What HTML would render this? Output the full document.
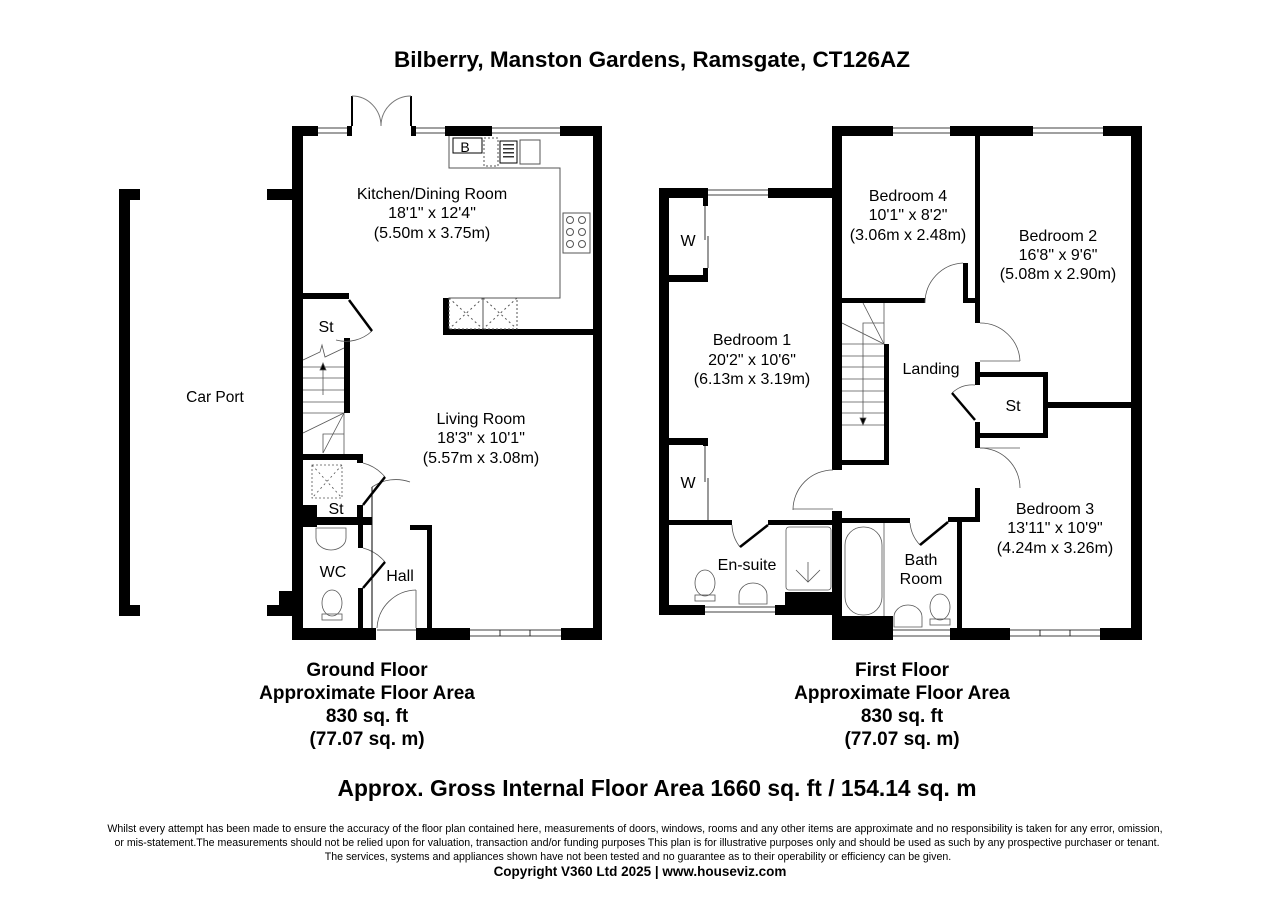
<!DOCTYPE html>
<html><head><meta charset="utf-8"><style>
html,body{margin:0;padding:0;background:#fff;}
svg{display:block;}
text{font-family:"Liberation Sans",Arial,sans-serif;fill:#000;}
.b{font-weight:bold;}
</style></head><body>
<svg width="1280" height="905" viewBox="0 0 1280 905" xmlns="http://www.w3.org/2000/svg">
<rect width="1280" height="905" fill="#fff"/>
<text x="652" y="67" font-size="22.5" class="b" text-anchor="middle">Bilberry, Manston Gardens, Ramsgate, CT126AZ</text>

<!-- ===== Car port ===== -->
<g fill="#000">
<rect x="119" y="189" width="11" height="427"/>
<rect x="119" y="189" width="21" height="11"/>
<rect x="119" y="605" width="21" height="11"/>
</g>
<text x="215" y="402" font-size="15.5" text-anchor="middle">Car Port</text>

<!-- ===== Ground floor walls ===== -->
<g fill="#000">
<rect x="292" y="126" width="11" height="514"/>
<rect x="267" y="189" width="30" height="11"/>
<rect x="267" y="605" width="30" height="11"/>
<rect x="279" y="591" width="16" height="20"/>
<rect x="292" y="126" width="26" height="10"/>
<rect x="347" y="126" width="5" height="10"/>
<rect x="411" y="126" width="5" height="10"/>
<rect x="445" y="126" width="47" height="10"/>
<rect x="560" y="126" width="42" height="10"/>
<rect x="593" y="126" width="9" height="514"/>
<rect x="292" y="628" width="84" height="12"/>
<rect x="416" y="628" width="54" height="12"/>
<rect x="561" y="628" width="41" height="12"/>
<rect x="443" y="298" width="6" height="37"/>
<rect x="443" y="329" width="155" height="6"/>
<rect x="303" y="293" width="46" height="6"/>
<rect x="344" y="338" width="6" height="75"/>
<rect x="292" y="454" width="68" height="6"/>
<rect x="357" y="454" width="6" height="9"/>
<rect x="357" y="505" width="6" height="18"/>
<rect x="292" y="505" width="25" height="22"/>
<rect x="292" y="517" width="80" height="8"/>
<rect x="358" y="525" width="5" height="23"/>
<rect x="358" y="588" width="5" height="45"/>
<rect x="410" y="525" width="22" height="5"/>
<rect x="427" y="525" width="5" height="105"/>
</g>
<g stroke="#000" stroke-width="0.8" fill="none">
<line x1="318" y1="128" x2="347" y2="128"/><line x1="318" y1="133" x2="347" y2="133"/>
<line x1="416" y1="128" x2="445" y2="128"/><line x1="416" y1="133" x2="445" y2="133"/>
<line x1="492" y1="128" x2="560" y2="128"/><line x1="492" y1="133" x2="560" y2="133"/>
<line x1="470" y1="630" x2="561" y2="630"/><line x1="470" y1="636" x2="561" y2="636"/>
<line x1="500" y1="630" x2="500" y2="636"/><line x1="530" y1="630" x2="530" y2="636"/>
<line x1="377" y1="630" x2="416" y2="630"/>
</g>
<g fill="none" stroke="#000">
<line x1="352" y1="96" x2="352" y2="126" stroke-width="2"/>
<line x1="411" y1="96" x2="411" y2="126" stroke-width="2"/>
<path d="M352 96 A29 30 0 0 1 381 126" stroke="#777" stroke-width="1"/>
<path d="M411 96 A30 30 0 0 0 381 126" stroke="#777" stroke-width="1"/>
</g>
<g fill="none" stroke="#555" stroke-width="1">
<polyline points="449,136 449,168 560,168 560,298 449,298"/>
<rect x="453" y="138" width="29" height="15" stroke="#000"/>
<rect x="484" y="138" width="14" height="28" stroke-dasharray="2,2"/>
<rect x="500" y="141" width="17" height="22" stroke="#000"/>
<rect x="520" y="140" width="20" height="24"/>
<rect x="563" y="213" width="27" height="40"/>
<circle cx="570" cy="220" r="3.5"/><circle cx="582" cy="220" r="3.5"/>
<circle cx="570" cy="232" r="3.5"/><circle cx="582" cy="232" r="3.5"/>
<circle cx="570" cy="244" r="3.5"/><circle cx="582" cy="244" r="3.5"/>
<rect x="449" y="298" width="34" height="31" stroke-dasharray="2,2"/>
<rect x="483" y="298" width="34" height="31" stroke-dasharray="2,2"/>
<path d="M449 298 L483 329 M483 298 L449 329 M483 298 L517 329 M517 298 L483 329" stroke-dasharray="2,3"/>
</g>
<g fill="#333"><rect x="503" y="144" width="11" height="1.5"/><rect x="503" y="148" width="11" height="1.5"/><rect x="503" y="152" width="11" height="1.5"/><rect x="503" y="156" width="11" height="1.5"/></g>
<text x="465" y="152" font-size="14" text-anchor="middle">B</text>
<g fill="none" stroke="#555" stroke-width="0.8">
<line x1="303" y1="367" x2="344" y2="367"/><line x1="303" y1="378" x2="344" y2="378"/>
<line x1="303" y1="390" x2="344" y2="390"/><line x1="303" y1="402" x2="344" y2="402"/>
<line x1="303" y1="413" x2="344" y2="413"/>
<line x1="303" y1="433" x2="344" y2="413"/><line x1="323" y1="453" x2="344" y2="413"/>
<polyline points="323,453 323,434 344,434"/><line x1="344" y1="413" x2="344" y2="454"/>
<polyline points="303,360 320,352 322,345 325,357 344,348"/>
<line x1="323" y1="395" x2="323" y2="368"/>
<path d="M320 370 L323 363 L326 370 Z" fill="#000"/>
<rect x="312" y="465" width="30" height="33" stroke-dasharray="2,2"/>
<path d="M312 465 L342 498 M342 465 L312 498" stroke-dasharray="2,3"/>
<path d="M372 331 A38 38 0 0 1 336 340"/>
<path d="M363 463 A42 42 0 0 1 385 477"/>
<path d="M372 487 A42 42 0 0 1 410 482"/>
<path d="M363 548 A42 42 0 0 1 385 562"/>
<path d="M377 628 A40 40 0 0 1 416 590"/>
<line x1="416" y1="590" x2="416" y2="628"/>
<path d="M316 528 L346 528 L346 538 A15 12 0 0 1 316 538 Z"/>
<ellipse cx="332" cy="603" rx="10" ry="13"/>
<rect x="322" y="614" width="20" height="6"/>
</g>
<g stroke="#000" stroke-width="2.5"><line x1="349" y1="300" x2="372" y2="331"/><line x1="363" y1="505" x2="385" y2="477"/><line x1="363" y1="588" x2="385" y2="562"/></g>
<g stroke="#000" stroke-width="1"><line x1="372" y1="487" x2="372" y2="628"/></g>
<g font-size="16" text-anchor="middle">
<text x="326" y="332">St</text>
<text x="336" y="514">St</text>
<text x="333" y="577">WC</text>
<text x="400" y="581">Hall</text>
<text x="432" y="199">Kitchen/Dining Room</text>
<text x="432" y="218">18'1" x 12'4"</text>
<text x="432" y="238">(5.50m x 3.75m)</text>
<text x="481" y="424">Living Room</text>
<text x="481" y="443">18'3" x 10'1"</text>
<text x="481" y="463">(5.57m x 3.08m)</text>
</g>

<!-- ===== First floor walls ===== -->
<g fill="#000">
<rect x="659" y="188" width="10" height="427"/>
<rect x="659" y="188" width="49" height="10"/>
<rect x="768" y="188" width="74" height="10"/>
<rect x="833" y="126" width="60" height="10"/>
<rect x="950" y="126" width="83" height="10"/>
<rect x="1103" y="126" width="39" height="10"/>
<rect x="1131" y="126" width="11" height="514"/>
<rect x="832" y="126" width="10" height="344"/>
<rect x="832" y="511" width="10" height="129"/>
<rect x="669" y="275" width="39" height="7"/>
<rect x="703" y="198" width="5" height="8"/><rect x="703" y="268" width="5" height="10"/>
<rect x="669" y="438" width="39" height="7"/>
<rect x="703" y="438" width="5" height="8"/>
<rect x="659" y="520" width="73" height="5"/>
<rect x="768" y="520" width="65" height="5"/>
<rect x="659" y="605" width="46" height="10"/>
<rect x="775" y="605" width="58" height="10"/>
<rect x="785" y="592" width="48" height="23"/>
<rect x="842" y="298" width="83" height="5"/>
<rect x="963" y="298" width="17" height="5"/>
<rect x="975" y="126" width="5" height="197"/>
<rect x="975" y="362" width="5" height="23"/>
<rect x="975" y="422" width="5" height="26"/>
<rect x="975" y="488" width="5" height="34"/>
<rect x="963" y="263" width="5" height="40"/>
<rect x="975" y="372" width="73" height="5"/>
<rect x="975" y="433" width="73" height="5"/>
<rect x="1043" y="372" width="5" height="66"/>
<rect x="1048" y="402" width="83" height="6"/>
<rect x="884" y="344" width="5" height="121"/>
<rect x="842" y="460" width="47" height="5"/>
<rect x="842" y="518" width="68" height="5"/>
<rect x="948" y="517" width="32" height="5"/>
<rect x="957" y="517" width="5" height="123"/>
<rect x="833" y="628" width="60" height="12"/>
<rect x="842" y="616" width="51" height="14"/>
<rect x="950" y="628" width="60" height="12"/>
<rect x="1100" y="628" width="42" height="12"/>
</g>
<g stroke="#000" stroke-width="0.8" fill="none">
<line x1="708" y1="190" x2="768" y2="190"/><line x1="708" y1="195" x2="768" y2="195"/>
<line x1="893" y1="128" x2="950" y2="128"/><line x1="893" y1="133" x2="950" y2="133"/>
<line x1="1033" y1="128" x2="1103" y2="128"/><line x1="1033" y1="133" x2="1103" y2="133"/>
<line x1="705" y1="607" x2="775" y2="607"/><line x1="705" y1="612" x2="775" y2="612"/>
<line x1="893" y1="630" x2="950" y2="630"/><line x1="893" y1="636" x2="950" y2="636"/>
<line x1="1010" y1="630" x2="1100" y2="630"/><line x1="1010" y1="636" x2="1100" y2="636"/>
<line x1="1040" y1="630" x2="1040" y2="636"/><line x1="1070" y1="630" x2="1070" y2="636"/>
<line x1="705" y1="206" x2="705" y2="240"/><line x1="708" y1="236" x2="708" y2="268"/>
<line x1="705" y1="446" x2="705" y2="482"/><line x1="708" y1="478" x2="708" y2="520"/>
</g>
<g fill="none" stroke="#555" stroke-width="0.8">
<line x1="842" y1="344" x2="884" y2="344"/><line x1="842" y1="356" x2="884" y2="356"/>
<line x1="842" y1="367" x2="884" y2="367"/><line x1="842" y1="379" x2="884" y2="379"/>
<line x1="842" y1="391" x2="884" y2="391"/><line x1="842" y1="402" x2="884" y2="402"/>
<line x1="842" y1="413" x2="884" y2="413"/><line x1="842" y1="425" x2="884" y2="425"/>
<line x1="842" y1="323" x2="884" y2="344"/><line x1="863" y1="303" x2="884" y2="344"/>
<polyline points="863,344 863,323 884,323"/><line x1="884" y1="303" x2="884" y2="344"/>
<line x1="863" y1="344" x2="863" y2="420"/>
<path d="M860 418 L863 425 L866 418 Z" fill="#000"/>
<path d="M925 303 A40 40 0 0 1 963 263"/>
<path d="M980 323 A40 40 0 0 1 1020 361"/><line x1="980" y1="361" x2="1020" y2="361"/>
<path d="M952 393 A30 30 0 0 1 975 385"/>
<path d="M980 448 A40 40 0 0 1 1020 488"/><line x1="980" y1="448" x2="1020" y2="448"/>
<path d="M833 470 A40 40 0 0 0 793 510"/><line x1="793" y1="509" x2="833" y2="509"/>
<path d="M732 525 A37 37 0 0 0 740 547"/>
<path d="M910 523 A37 37 0 0 0 920 545"/>
<rect x="786" y="527" width="45" height="63" rx="3"/>
<path d="M796 570 L808 582 L820 570 M808 562 L808 582"/>
<rect x="845" y="527" width="37" height="88" rx="18"/>
<line x1="884" y1="523" x2="884" y2="616"/>
<ellipse cx="705" cy="583" rx="10" ry="13"/><rect x="695" y="595" width="20" height="6"/>
<path d="M739 604 L739 595 A14 12 0 0 1 767 595 L767 604 Z"/>
<ellipse cx="940" cy="607" rx="10" ry="13"/><rect x="930" y="619" width="20" height="6"/>
<path d="M894 627 L894 617 A14 12 0 0 1 922 617 L922 627 Z"/>
</g>
<g stroke="#000" stroke-width="2.5"><line x1="952" y1="393" x2="975" y2="420"/><line x1="740" y1="547" x2="768" y2="525"/><line x1="920" y1="545" x2="948" y2="522"/></g>
<g font-size="16" text-anchor="middle">
<text x="688" y="246">W</text>
<text x="688" y="488">W</text>
<text x="908" y="201">Bedroom 4</text>
<text x="908" y="220">10'1" x 8'2"</text>
<text x="908" y="240">(3.06m x 2.48m)</text>
<text x="1058" y="241">Bedroom 2</text>
<text x="1058" y="260">16'8" x 9'6"</text>
<text x="1058" y="279">(5.08m x 2.90m)</text>
<text x="752" y="345">Bedroom 1</text>
<text x="752" y="365">20'2" x 10'6"</text>
<text x="752" y="384">(6.13m x 3.19m)</text>
<text x="931" y="374">Landing</text>
<text x="1013" y="411">St</text>
<text x="1055" y="514">Bedroom 3</text>
<text x="1055" y="533">13'11" x 10'9"</text>
<text x="1055" y="553">(4.24m x 3.26m)</text>
<text x="747" y="570">En-suite</text>
<text x="921" y="565">Bath</text>
<text x="921" y="584">Room</text>
</g>

<!-- ===== Footer ===== -->
<g font-size="19" class="b" text-anchor="middle">
<text x="367" y="676" class="b">Ground Floor</text>
<text x="367" y="699" class="b">Approximate Floor Area</text>
<text x="367" y="722" class="b">830 sq. ft</text>
<text x="367" y="745" class="b">(77.07 sq. m)</text>
<text x="902" y="676" class="b">First Floor</text>
<text x="902" y="699" class="b">Approximate Floor Area</text>
<text x="902" y="722" class="b">830 sq. ft</text>
<text x="902" y="745" class="b">(77.07 sq. m)</text>
</g>
<text x="657" y="796" font-size="22.8" class="b" text-anchor="middle">Approx. Gross Internal Floor Area 1660 sq. ft / 154.14 sq. m</text>
<g font-size="10.6" text-anchor="middle">
<text x="635" y="832">Whilst every attempt has been made to ensure the accuracy of the floor plan contained here, measurements of doors, windows, rooms and any other items are approximate and no responsibility is taken for any error, omission,</text>
<text x="637" y="846">or mis-statement.The measurements should not be relied upon for valuation, transaction and/or funding purposes This plan is for illustrative purposes only and should be used as such by any prospective purchaser or tenant.</text>
<text x="638" y="860">The services, systems and appliances shown have not been tested and no guarantee as to their operability or efficiency can be given.</text>
</g>
<text x="640" y="876" font-size="13.5" class="b" text-anchor="middle">Copyright V360 Ltd 2025 | www.houseviz.com</text>
</svg>
</body></html>
